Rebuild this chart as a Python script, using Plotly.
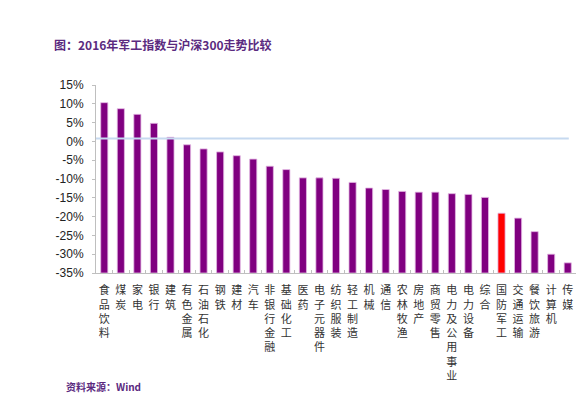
import plotly.graph_objects as go

categories = ["食品饮料", "煤炭", "家电", "银行", "建筑", "有色金属", "石油石化", "钢铁", "建材", "汽车",
              "非银行金融", "基础化工", "医药", "电子元器件", "纺织服装", "轻工制造", "机械", "通信",
              "农林牧渔", "房地产", "商贸零售", "电力及公用事业", "电力设备", "综合", "国防军工",
              "交通运输", "餐饮旅游", "计算机", "传媒"]
values = [10.3, 8.7, 7.2, 4.8, 1.1, -0.9, -2.0, -2.8, -3.8, -4.7,
          -6.6, -7.5, -9.7, -9.7, -9.8, -10.9, -12.4, -12.8,
          -13.3, -13.5, -13.5, -13.9, -14.1, -14.9, -19.1,
          -20.4, -24.0, -30.0, -32.3]
highlight = "国防军工"
y_min, y_max = -35, 15
y_ticks = list(range(-35, 16, 5))
y_tick_labels = [f"{v}%" for v in y_ticks]
ref_line_value = 0.8

colors = ["#FF0000" if c == highlight else "#800080" for c in categories]
tick_text = ["<br>".join(list(c)) for c in categories]

fig = go.Figure()
fig.add_trace(go.Bar(
    x=categories,
    y=[v - y_min for v in values],
    base=y_min,
    marker=dict(color=colors, line=dict(color="#E3B8E3", width=0.8)),
    showlegend=False,
))

fig.add_shape(type="line", xref="paper", yref="y", x0=0.0, x1=0.985,
              y0=ref_line_value, y1=ref_line_value,
              line=dict(color="#C6D9F0", width=2))

fig.update_layout(
    width=580, height=398,
    margin=dict(l=96, r=4, t=85, b=125, autoexpand=False),
    paper_bgcolor="white", plot_bgcolor="white",
    bargap=0.57,
    title=dict(text="<b>图：2016年军工指数与沪深300走势比较</b>",
               x=54 / 580, xanchor="left", xref="container",
               y=1 - 46 / 398, yanchor="middle", yref="container",
               pad=dict(l=0, r=0, t=0, b=0),
               font=dict(family="Noto Sans CJK SC", size=12, color="#5B2A7F")),
    font=dict(family="Liberation Sans, Arial", color="#222222"),
)

fig.update_xaxes(
    tickmode="array", tickvals=categories, ticktext=tick_text,
    tickangle=0, tickson="boundaries", ticks="inside", ticklen=3,
    tickcolor="#BFBFBF", showline=True, linecolor="#BFBFBF", linewidth=1,
    showgrid=False, automargin=False, ticklabelstandoff=7,
    tickfont=dict(family="Noto Sans CJK SC", size=11, color="#333333"),
    range=[-0.5, len(categories) - 0.5],
)
fig.update_yaxes(
    range=[y_min, y_max], tickmode="array", tickvals=y_ticks, ticktext=y_tick_labels,
    showgrid=False, zeroline=False, showline=True, linecolor="#BFBFBF", linewidth=1,
    ticks="outside", ticklen=3, tickcolor="#BFBFBF", automargin=False,
    ticklabelstandoff=6,
    tickfont=dict(family="Liberation Sans, Arial", size=12, color="#222222"),
)

fig.add_annotation(text="<b>资料来源：Wind</b>", xref="paper", yref="paper",
                   x=(64 - 96) / 480, xanchor="left", y=-(386 - 273) / 188, yanchor="middle",
                   showarrow=False,
                   font=dict(family="Noto Sans CJK SC", size=10, color="#5B2A7F"))

fig.write_html("out.html", config={"displayModeBar": False},
               post_script="document.body.style.margin='0';")
